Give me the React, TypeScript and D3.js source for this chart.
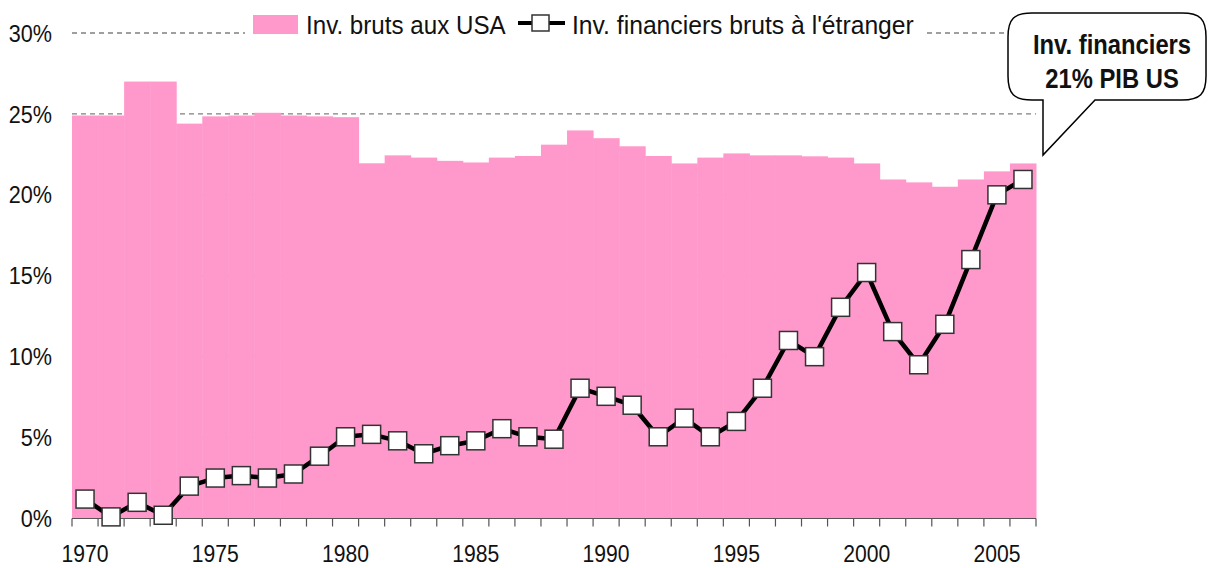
import React from 'react';
import * as d3 from 'd3';

// années (catégories)
const years = [
  1970, 1971, 1972, 1973, 1974, 1975, 1976, 1977, 1978, 1979,
  1980, 1981, 1982, 1983, 1984, 1985, 1986, 1987, 1988, 1989,
  1990, 1991, 1992, 1993, 1994, 1995, 1996, 1997, 1998, 1999,
  2000, 2001, 2002, 2003, 2004, 2005, 2006,
];

// Inv. bruts aux USA (% PIB)
const grossInvUSA = [
  24.9, 24.9, 27.0, 27.0, 24.4, 24.85, 24.9, 25.07, 24.9, 24.85,
  24.8, 21.95, 22.44, 22.3, 22.1, 22.0, 22.3, 22.4, 23.1, 23.98,
  23.5, 23.0, 22.4, 21.94, 22.3, 22.56, 22.44, 22.44, 22.38, 22.3,
  21.94, 20.95, 20.77, 20.5, 20.95, 21.45, 21.94,
];

// Inv. financiers bruts à l'étranger (% PIB)
const financialInvAbroad = [
  1.2, 0.1, 1.0, 0.2, 2.0, 2.5, 2.65, 2.5, 2.75, 3.85,
  5.05, 5.2, 4.8, 4.0, 4.5, 4.8, 5.55, 5.05, 4.9, 8.05,
  7.55, 7.0, 5.05, 6.2, 5.05, 6.0, 8.05, 11.0, 10.0, 13.05,
  15.2, 11.55, 9.5, 12.0, 16.0, 20.0, 20.95,
];

const yTicks = [0, 5, 10, 15, 20, 25, 30];
const xLabelYears = [1970, 1975, 1980, 1985, 1990, 1995, 2000, 2005];
const legendLabels = ['Inv. bruts aux USA', "Inv. financiers bruts à l'étranger"];
const calloutLines = ['Inv. financiers', '21% PIB US'];

const W = 1208;
const H = 568;
const FONT = "'Liberation Sans', Arial, sans-serif";
const PINK = '#ff99cc';

// texte "étroit" : pas de police narrow installée, on compresse horizontalement
function NarrowText(props: {
  x: number; y: number; sx: number; size: number; anchor?: string; bold?: boolean; dy?: string; children: React.ReactNode;
}) {
  const { x, y, sx, size, anchor, bold, dy, children } = props;
  return (
    <text
      transform={`translate(${x},${y}) scale(${sx},1)`}
      textAnchor={anchor ?? 'start'}
      fontSize={size}
      fontWeight={bold ? 'bold' : 'normal'}
      dy={dy}
      fill="#111"
    >
      {children}
    </text>
  );
}

export default function App() {
  const x = d3.scaleBand<number>().domain(years).range([72, 1036]).padding(0);
  const y = d3.scaleLinear().domain([0, 30]).range([518.5, 33]);
  const bw = x.bandwidth();
  const cx = (yr: number) => (x(yr) ?? 0) + bw / 2;

  const line = d3
    .line<number>()
    .x((_, i) => cx(years[i]))
    .y((d) => y(d));

  // bulle (callout)
  const bx0 = 1008, bx1 = 1206, by0 = 13, by1 = 100, r = 24;
  const bubble =
    `M${bx0 + r},${by0} H${bx1 - r} C${bx1 - 6},${by0} ${bx1},${by0 + 6} ${bx1},${by0 + r} ` +
    `V${by1 - r} C${bx1},${by1 - 6} ${bx1 - 6},${by1} ${bx1 - r},${by1} ` +
    `H1095 L1043,155 L1043,${by1} H${bx0 + r} ` +
    `C${bx0 + 6},${by1} ${bx0},${by1 - 6} ${bx0},${by1 - r} V${by0 + r} ` +
    `C${bx0},${by0 + 6} ${bx0 + 6},${by0} ${bx0 + r},${by0} Z`;

  return (
    <svg
      width={W}
      height={H}
      style={{ position: 'absolute', left: 0, top: 0, background: '#fff' }}
      fontFamily={FONT}
    >
      {/* grille */}
      {yTicks
        .filter((t) => t > 0)
        .map((t) => (
          <line
            key={t}
            x1={72}
            x2={1036}
            y1={y(t)}
            y2={y(t)}
            stroke="#808080"
            strokeWidth={1.3}
            strokeDasharray="5,4"
          />
        ))}

      {/* barres */}
      {grossInvUSA.map((v, i) => (
        <rect
          key={years[i]}
          x={x(years[i])}
          y={y(v)}
          width={bw + 0.5}
          height={y(0) - y(v)}
          fill={PINK}
        />
      ))}

      {/* axe x */}
      <line x1={72} x2={1036} y1={y(0)} y2={y(0)} stroke="#555" strokeWidth={1.2} />
      {years.concat([2007]).map((yr, i) => {
        const xx = i < years.length ? x(yr)! : 1036;
        return <line key={yr} x1={xx} x2={xx} y1={y(0)} y2={y(0) + 8} stroke="#555" strokeWidth={1.2} />;
      })}
      {xLabelYears.map((yr) => (
        <NarrowText key={yr} x={cx(yr)} y={562} sx={0.92} size={23} anchor="middle">
          {yr}
        </NarrowText>
      ))}

      {/* étiquettes y */}
      {yTicks.map((t) => (
        <NarrowText key={t} x={52} y={y(t)} dy="0.36em" sx={0.9} size={24} anchor="end">
          {t}%
        </NarrowText>
      ))}

      {/* série financière */}
      <path d={line(financialInvAbroad) ?? ''} fill="none" stroke="#000" strokeWidth={4.5} strokeLinejoin="round" />
      {financialInvAbroad.map((v, i) => (
        <rect
          key={years[i]}
          x={cx(years[i]) - 9}
          y={y(v) - 9}
          width={18}
          height={18}
          fill="#fff"
          stroke="#333"
          strokeWidth={1.5}
        />
      ))}

      {/* légende */}
      <rect x={245} y={8} width={680} height={34} fill="#fff" />
      <rect x={253} y={15} width={45} height={19} fill={PINK} />
      <NarrowText x={306} y={34} sx={0.93} size={26}>
        {legendLabels[0]}
      </NarrowText>
      <line x1={518} x2={565} y1={23} y2={23} stroke="#000" strokeWidth={4} />
      <rect x={532} y={15} width={17} height={16} fill="#fff" stroke="#333" strokeWidth={1.5} />
      <NarrowText x={572} y={34} sx={0.95} size={26}>
        {legendLabels[1]}
      </NarrowText>

      {/* bulle */}
      <path d={bubble} fill="#fff" stroke="#000" strokeWidth={1.5} />
      <NarrowText x={1112} y={54} sx={0.85} size={28} anchor="middle" bold>
        {calloutLines[0]}
      </NarrowText>
      <NarrowText x={1112} y={88} sx={0.85} size={28} anchor="middle" bold>
        {calloutLines[1]}
      </NarrowText>
    </svg>
  );
}
